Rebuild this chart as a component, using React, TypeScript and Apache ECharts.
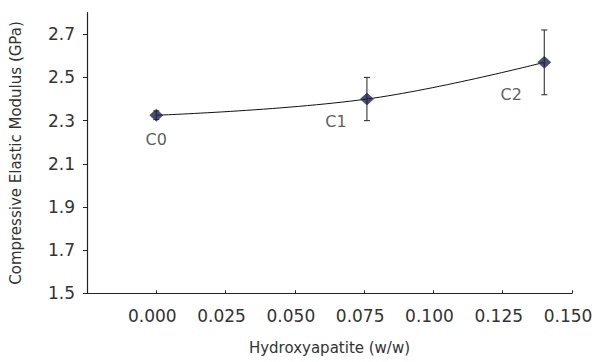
import React, { useEffect, useRef } from "react";
import * as echarts from "echarts";

// ---- data ----
const pointNames = ["C0", "C1", "C2"];
const hydroxyapatite = [0, 0.076, 0.14];
const modulus = [2.325, 2.4, 2.57];
const modulusError = [0.02, 0.1, 0.15];
const xTickValues = [-0.025, 0, 0.025, 0.05, 0.075, 0.1, 0.125, 0.15];
const xLabelValues = [0, 0.025, 0.05, 0.075, 0.1, 0.125, 0.15];
const yTickValues = [1.5, 1.7, 1.9, 2.1, 2.3, 2.5, 2.7];

const FONT = "DejaVu Sans";
const TEXT = "#333";
const AXIS = "#222";

// label placement for each point (styling)
const labelOffsets: [number, number][] = [
  [0, 24],
  [-31, 22],
  [-33, 32],
];

export default function App() {
  const ref = useRef<HTMLDivElement>(null);

  useEffect(() => {
    if (!ref.current) return;
    const chart = echarts.init(ref.current, undefined, { renderer: "svg" });

    const points = hydroxyapatite.map((x, i) => [x, modulus[i]]);
    const errData = hydroxyapatite.map((x, i) => [x, modulus[i], modulusError[i]]);

    chart.setOption({
      animation: false,
      backgroundColor: "#fff",
      grid: { left: 84, right: 28, top: 12.7, bottom: 68.7, containLabel: false },
      xAxis: {
        type: "value",
        min: -0.025,
        max: 0.15,
        name: "Hydroxyapatite (w/w)",
        nameLocation: "middle",
        nameGap: 47,
        nameTextStyle: { fontFamily: FONT, fontSize: 15, color: TEXT },
        axisLine: { show: true, onZero: false, lineStyle: { color: AXIS, width: 1.2 } },
        axisTick: {
          show: true,
          inside: true,
          length: 3,
          customValues: xTickValues,
          lineStyle: { color: AXIS, width: 1 },
        },
        axisLabel: {
          customValues: xLabelValues,
          formatter: (v: number) => v.toFixed(3),
          fontFamily: FONT,
          fontSize: 17,
          color: TEXT,
          margin: 14,
          padding: [0, 8, 0, 0],
        },
        splitLine: { show: false },
      },
      yAxis: {
        type: "value",
        min: 1.5,
        max: 2.8,
        name: "Compressive Elastic Modulus (GPa)",
        nameLocation: "middle",
        nameGap: 64,
        nameTextStyle: { fontFamily: FONT, fontSize: 15, color: TEXT },
        axisLine: { show: true, onZero: false, lineStyle: { color: AXIS, width: 1.2 } },
        axisTick: {
          show: true,
          length: 4,
          customValues: yTickValues,
          lineStyle: { color: AXIS, width: 1 },
        },
        axisLabel: {
          customValues: yTickValues,
          formatter: (v: number) => v.toFixed(1),
          fontFamily: FONT,
          fontSize: 17,
          color: TEXT,
          margin: 12,
        },
        splitLine: { show: false },
      },
      series: [
        {
          type: "line",
          data: points,
          smooth: 0.4,
          showSymbol: false,
          symbol: "none",
          lineStyle: { color: "#111", width: 1 },
          z: 1,
        },
        {
          type: "custom",
          data: errData,
          encode: { x: 0, y: 1 },
          z: 2,
          renderItem: (params: any, api: any) => {
            const x = api.value(0);
            const y = api.value(1);
            const e = api.value(2);
            const top = api.coord([x, y + e]);
            const bot = api.coord([x, y - e]);
            const cap = 3;
            const style = { stroke: "#333", lineWidth: 1.1 };
            return {
              type: "group",
              children: [
                { type: "line", shape: { x1: top[0], y1: top[1], x2: bot[0], y2: bot[1] }, style },
                { type: "line", shape: { x1: top[0] - cap, y1: top[1], x2: top[0] + cap, y2: top[1] }, style },
                { type: "line", shape: { x1: bot[0] - cap, y1: bot[1], x2: bot[0] + cap, y2: bot[1] }, style },
              ],
            };
          },
        },
        {
          type: "scatter",
          z: 3,
          symbol: "diamond",
          symbolSize: [13, 12],
          itemStyle: { color: "#1b1f4e", borderColor: "#3a3a4a", borderWidth: 0.8 },
          data: points.map((p, i) => ({
            value: p,
            name: pointNames[i],
            label: {
              show: true,
              formatter: pointNames[i],
              position: "inside",
              offset: labelOffsets[i],
              fontFamily: FONT,
              fontSize: 16,
              color: TEXT,
            },
          })),
        },
      ],
    });

    return () => chart.dispose();
  }, []);

  return (
    <div
      ref={ref}
      style={{ position: "fixed", left: 0, top: 0, width: 600, height: 362 }}
    />
  );
}
